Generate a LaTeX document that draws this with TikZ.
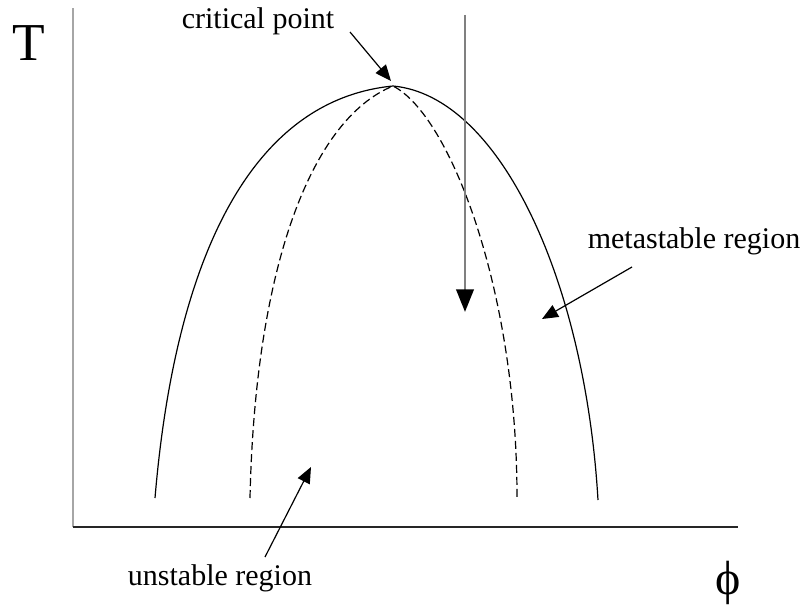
\documentclass[tikz,border=0pt]{standalone}
\usepackage{fontspec}
\setmainfont{Liberation Serif}
\usetikzlibrary{arrows.meta}
\begin{document}
\begin{tikzpicture}[x=0.75pt,y=-0.75pt,
  lbl/.style={inner sep=0pt,font=\fontsize{22.5}{26}\selectfont},
  curve/.style={line width=0.9pt,black},
  pointer/.style={line width=0.9pt,-{Triangle[length=12pt,width=10pt]}},
  coolarrow/.style={line width=2.2pt,gray,-{Triangle[length=17pt,width=13pt,color=black,fill=black]}}]
\useasboundingbox (0,0) rectangle (804,610);
% axes
\coordinate (O) at (73,527);
\coordinate (ytop) at (73,8);
\coordinate (xend) at (738,527);
\draw[line width=1pt,gray!70] (O) -- (ytop);
\draw[line width=1.5pt,black!85] (O) -- (xend);
\node[inner sep=0pt,font=\fontsize{40}{44}\selectfont] (T) at (29,43) {T};
\node[inner sep=0pt,font=\fontsize{36}{40}\selectfont] (phi) at (728,583) {ϕ};
% binodal
\coordinate (peak) at (393,86);
\coordinate (bl) at (155,498);
\coordinate (br) at (598,500);
\draw[curve] (bl) .. controls (175,260) and (250,100) .. (peak)
  .. controls (500,96) and (585,280) .. (br);
% spinodal
\coordinate (sl) at (250,498);
\coordinate (sr) at (517,497);
\draw[curve,dash pattern=on 6pt off 3pt] (sl) .. controls (255,270) and (310,120) .. (peak)
  .. controls (450,115) and (517,290) .. (sr);
% quench arrow
\coordinate (qs) at (465,15);
\coordinate (qe) at (465,312);
\draw[coolarrow] (qs) -- (qe);
% labels
\node[lbl] (cp) at (258,21) {critical point};
\node[lbl] (ms) at (694,241) {metastable region};
\node[lbl] (us) at (220,578) {unstable region};
\coordinate (cps) at (350,32);
\coordinate (cpe) at (391,81);
\coordinate (mss) at (632,267);
\coordinate (mse) at (542,319);
\coordinate (uss) at (265,557);
\coordinate (use) at (311,467);
\draw[pointer] (cps) -- (cpe);
\draw[pointer] (mss) -- (mse);
\draw[pointer] (uss) -- (use);
\end{tikzpicture}
\end{document}
